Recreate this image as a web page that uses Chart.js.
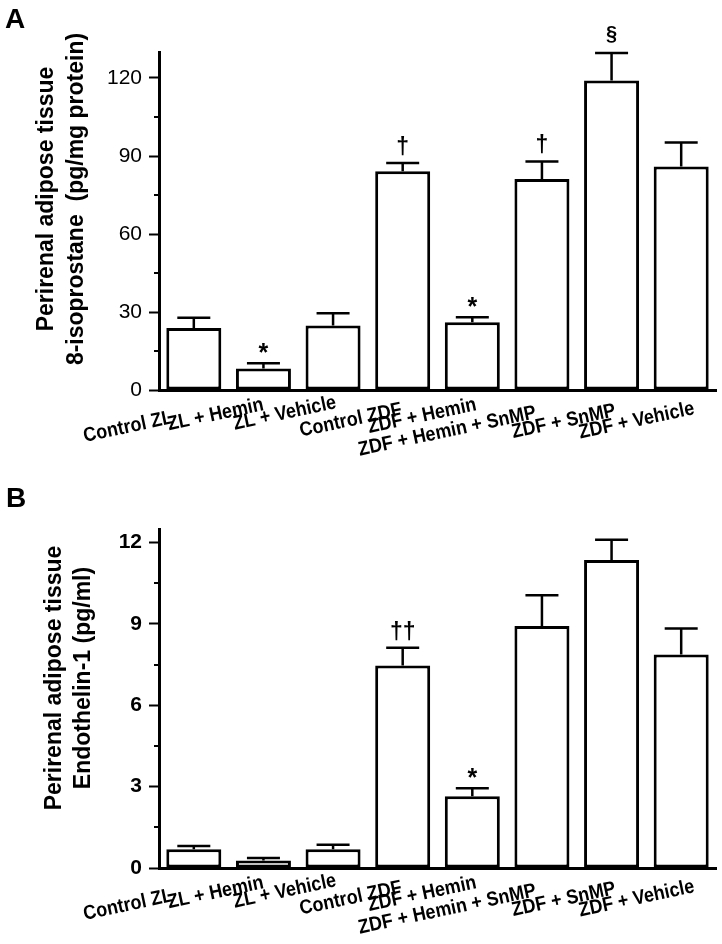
<!DOCTYPE html>
<html><head><meta charset="utf-8">
<script src="https://cdn.jsdelivr.net/npm/chart.js@4.4.1/dist/chart.umd.min.js"></script>
<style>
html,body{margin:0;padding:0;background:#fff;}
#wrap{position:relative;width:722px;height:944px;overflow:hidden;}
.panel{position:absolute;left:0;width:722px;height:472px;}
#pa{top:0}
#pb{top:472px}
</style></head><body>
<div id="wrap">
<div class="panel" id="pa"><canvas id="ca"></canvas></div>
<div class="panel" id="pb"><canvas id="cb"></canvas></div>
</div>
<script>
// ---- data ----
const categories = ["Control ZL","ZL + Hemin","ZL + Vehicle","Control ZDF","ZDF + Hemin","ZDF + Hemin + SnMP","ZDF + SnMP","ZDF + Vehicle"];
const isoMeans = [23.8, 8.3, 24.8, 84.1, 26.1, 81.2, 119.0, 86.0];
const isoSem   = [4.0, 2.0, 4.7, 3.2, 1.9, 6.7, 10.6, 9.2];
const isoMarks = ["", "*", "", "\u2020", "*", "\u2020", "\u00a7", ""];
const isoMajorTicks = [0, 30, 60, 90, 120];
const isoMinorTicks = [15, 45, 75, 105];
const isoMax = 130;

const et1Means = [0.69, 0.28, 0.69, 7.47, 2.65, 8.92, 11.36, 7.87];
const et1Sem   = [0.12, 0.09, 0.17, 0.65, 0.29, 1.14, 0.74, 0.96];
const et1Marks = ["", "", "", "\u2020\u2020", "*", "", "", ""];
const et1MajorTicks = [0, 3, 6, 9, 12];
const et1MinorTicks = [1.5, 4.5, 7.5, 10.5];
const et1Max = 12.5;

const FONT = '"Liberation Sans", Arial, Helvetica, sans-serif';

// label placement relative to each category tick (end of text, baseline)
const labelDx = [-20, 1, 4, 0, 5, -5, 5, 14];
const labelDy = [33, 20, 18, 25, 20, 28, 26, 24];
const labelAngle = 12 * Math.PI / 180;

const annotPlugin = {
  id: 'annot',
  afterDatasetsDraw(chart, args, opts) {
    const ctx = chart.ctx;
    const xs = chart.scales.x, ys = chart.scales.y;
    const means = chart.data.datasets[0].data;
    ctx.save();
    ctx.strokeStyle = '#000';
    ctx.lineWidth = 2.5;
    ctx.lineCap = 'butt';
    means.forEach((m, i) => {
      const x = xs.getPixelForValue(i);
      const yTop = ys.getPixelForValue(m);
      const yErr = ys.getPixelForValue(m + opts.sem[i]);
      ctx.beginPath();
      ctx.moveTo(x, yTop);
      ctx.lineTo(x, yErr);
      ctx.moveTo(x - 16.5, yErr);
      ctx.lineTo(x + 16.5, yErr);
      ctx.stroke();
      const mk = opts.marks[i];
      if (mk) {
        const size = mk === '\u00a7' ? 20 : (mk === '*' ? 25 : 23);
        ctx.font = 'bold ' + size + 'px ' + FONT;
        ctx.fillStyle = '#000';
        ctx.textAlign = 'center';
        ctx.textBaseline = 'alphabetic';
        const mt = ctx.measureText(mk);
        const gap = mk.startsWith('\u2020') ? 7 : 10;
        ctx.fillText(mk, x, yErr - gap - mt.actualBoundingBoxDescent);
      }
    });
    ctx.restore();
  },
  afterDraw(chart, args, opts) {
    const ctx = chart.ctx;
    const xs = chart.scales.x, ys = chart.scales.y;
    ctx.save();
    // minor ticks
    ctx.strokeStyle = '#000';
    ctx.lineWidth = 2;
    opts.minor.forEach(v => {
      const y = Math.round(ys.getPixelForValue(v));
      ctx.beginPath();
      ctx.moveTo(chart.chartArea.left - 5, y);
      ctx.lineTo(chart.chartArea.left, y);
      ctx.stroke();
    });
    // x labels
    ctx.fillStyle = '#000';
    ctx.font = 'bold 20px ' + FONT;
    ctx.textAlign = 'right';
    ctx.textBaseline = 'alphabetic';
    chart.data.labels.forEach((lab, i) => {
      const x = xs.getPixelForValue(i) + labelDx[i];
      const y = chart.chartArea.bottom + labelDy[i];
      ctx.save();
      ctx.translate(x, y);
      ctx.rotate(-labelAngle);
      ctx.scale(0.9, 1);
      ctx.fillText(lab, 0, 0);
      ctx.restore();
    });
    // y title (two lines)
    ctx.font = 'bold 23px ' + FONT;
    ctx.textAlign = 'center';
    ctx.textBaseline = 'middle';
    opts.title.forEach((t, k) => {
      ctx.save();
      ctx.translate(opts.titleX[k], opts.titleY);
      ctx.rotate(-Math.PI / 2);
      ctx.fillText(t, 0, 0);
      ctx.restore();
    });
    // panel letter
    ctx.font = 'bold 28px ' + FONT;
    ctx.textAlign = 'left';
    ctx.textBaseline = 'alphabetic';
    ctx.fillText(opts.letter, opts.letterX, opts.letterY);
    ctx.restore();
  }
};

function makeChart(id, cfg) {
  const majors = cfg.major;
  return new Chart(document.getElementById(id), {
    type: 'bar',
    data: {
      labels: categories,
      datasets: [{
        data: cfg.means,
        backgroundColor: '#ffffff',
        borderColor: '#000000',
        borderWidth: 3,
        borderSkipped: false,
        barPercentage: 0.79,
        categoryPercentage: 1.0
      }]
    },
    options: {
      responsive: true,
      maintainAspectRatio: false,
      animation: false,
      events: [],
      layout: { padding: { top: cfg.padTop, right: 6, left: 0, bottom: 0 } },
      plugins: {
        legend: { display: false },
        tooltip: { enabled: false },
        annot: {
          sem: cfg.sem, marks: cfg.marks, minor: cfg.minor,
          title: cfg.title, titleX: cfg.titleX, titleY: cfg.titleY,
          letter: cfg.letter, letterX: cfg.letterX, letterY: cfg.letterY
        }
      },
      scales: {
        x: {
          type: 'category',
          offset: true,
          grid: { display: false, drawTicks: false },
          border: { display: true, color: '#000', width: 3 },
          ticks: { display: false },
          afterFit: s => { s.height = cfg.xHeight; }
        },
        y: {
          min: 0, max: cfg.max,
          afterBuildTicks: s => { s.ticks = majors.map(v => ({ value: v })); },
          grid: { display: true, drawOnChartArea: false, drawTicks: true, tickLength: 10, tickWidth: 2, tickColor: '#000' },
          border: { display: true, color: '#000', width: 3 },
          ticks: {
            color: '#000', padding: 7,
            font: { family: FONT, size: 21, weight: cfg.tickWeight },
            callback: v => String(v)
          },
          afterFit: s => { s.width = 159; }
        }
      }
    },
    plugins: [annotPlugin]
  });
}

makeChart('ca', {
  means: isoMeans, sem: isoSem, marks: isoMarks, major: isoMajorTicks, minor: isoMinorTicks,
  max: isoMax, padTop: 52, xHeight: 82, tickWeight: 'normal',
  title: ["Perirenal adipose tissue", "8-isoprostane  (pg/mg protein)"], titleX: [47, 77], titleY: 199,
  letter: "A", letterX: 5, letterY: 28
});
makeChart('cb', {
  means: et1Means, sem: et1Sem, marks: et1Marks, major: et1MajorTicks, minor: et1MinorTicks,
  max: et1Max, padTop: 57, xHeight: 76, tickWeight: 'bold',
  title: ["Perirenal adipose tissue", "Endothelin-1 (pg/ml)"], titleX: [55, 84], titleY: 206,
  letter: "B", letterX: 6, letterY: 35
});
</script>
</body></html>
